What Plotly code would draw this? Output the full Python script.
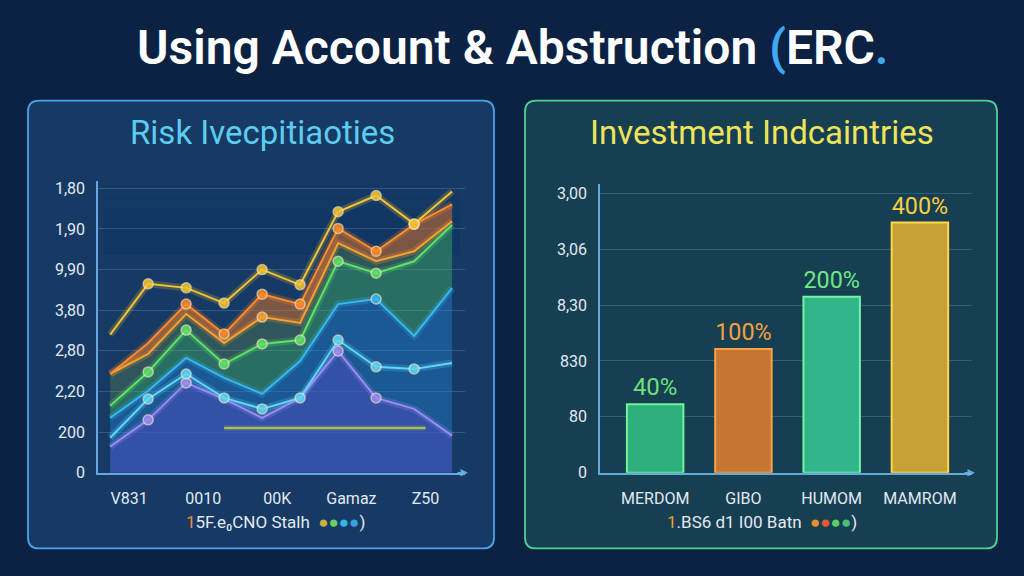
import plotly.graph_objects as go

# --- textos ---
titulo = "Using Account &amp; Abstruction <span style='color:#3fa9f5'>(</span>ERC<span style='color:#3fa9f5'>.</span>"
titulo_izq = "Risk Ivecpitiaoties"
titulo_der = "Investment Indcaintries"

# --- panel izquierdo: lineas ---
puntos = [0, 1, 2, 3, 4, 5, 6, 7, 8, 9]
amarillo = [680, 930, 910, 835, 1000, 925, 1285, 1365, 1225, 1385]
naranja_sup = [486, 639, 830, 683, 879, 830, 1203, 1090, 1223, 1321]
naranja_inf = [486, 585, 781, 639, 766, 737, 1130, 1041, 1090, 1238]
verde = [329, 496, 702, 535, 634, 653, 1041, 982, 1041, 1220]
cian = [270, 403, 565, 467, 388, 550, 830, 855, 673, 909]
celeste = [172, 363, 486, 368, 314, 368, 653, 521, 511, 540]
violeta = [128, 260, 442, 363, 270, 368, 599, 368, 314, 182]
base_x = [3.0, 8.3]
base_y = [220, 220]

x_ticks = [0.5, 2.45, 4.4, 6.35, 8.3]
x_labels = ["V831", "0010", "00K", "Gamaz", "Z50"]
y_ticks = [0, 200, 400, 600, 800, 1000, 1200, 1400]
y_labels = ["0", "200", "2,20", "2,80", "3,80", "9,90", "1,90", "1,80"]

# --- panel derecho: barras ---
categorias = ["MERDOM", "GIBO", "HUMOM", "MAMROM"]
valores = [980, 1770, 2520, 3585]
etiquetas = ["40%", "100%", "200%", "400%"]
y2_ticks = [0, 800, 1600, 2400, 3200, 4000]
y2_labels = ["0", "80", "830", "8,30", "3,06", "3,00"]

leyenda_izq = "<span style='color:#f08a3a'>1</span>5F.e\u2080CNO Stalh"
leyenda_der = "<span style='color:#e8a030'>1</span>.BS6 d1 I00 Batn"

W, H = 1024, 576
K = 0.982  # la foto comprime un poco en vertical
FUENTE = "Roboto"


def fx(p):
    return p / W


def fy(p):
    return 1 - (p / K) / H


def panel(x0, y0, x1, y1, r=11):
    return (f"M {fx(x0+r)},{fy(y0)} L {fx(x1-r)},{fy(y0)} Q {fx(x1)},{fy(y0)} {fx(x1)},{fy(y0+r)} "
            f"L {fx(x1)},{fy(y1-r)} Q {fx(x1)},{fy(y1)} {fx(x1-r)},{fy(y1)} "
            f"L {fx(x0+r)},{fy(y1)} Q {fx(x0)},{fy(y1)} {fx(x0)},{fy(y1-r)} "
            f"L {fx(x0)},{fy(y0+r)} Q {fx(x0)},{fy(y0)} {fx(x0+r)},{fy(y0)} Z")


def texto(t, px, py, size, color, **kw):
    return dict(text=t, x=fx(px), y=fy(py), xref="paper", yref="paper", showarrow=False,
                xanchor="center", yanchor="middle", font=dict(size=size, color=color, family=FUENTE, **kw))


fig = go.Figure()

# rellenos
def relleno(y, fill, color):
    fig.add_trace(go.Scatter(x=puntos, y=y, mode="lines", line=dict(width=0, color=color),
                             fill=fill, fillcolor=color, hoverinfo="skip", xaxis="x", yaxis="y"))

relleno(cian, "tozeroy", "rgba(35,140,225,0.38)")
relleno(violeta, "tozeroy", "rgba(80,70,190,0.45)")
relleno(cian, None, "rgba(0,0,0,0)")
relleno(verde, "tonexty", "rgba(70,195,95,0.38)")
relleno(naranja_inf, "tonexty", "rgba(110,150,70,0.30)")
relleno(naranja_sup, "tonexty", "rgba(225,115,40,0.50)")

series = [
    (violeta, "#9a8cf2", [1, 2, 6, 7]),
    (celeste, "#5fd6f7", [1, 2, 3, 4, 5, 6, 7, 8]),
    (cian, "#38b6f0", [7]),
    (verde, "#5ee06a", [1, 2, 3, 4, 5, 6, 7]),
    (naranja_inf, "#f7a030", [4]),
    (naranja_sup, "#ff8a2a", [2, 3, 4, 5, 6, 7, 8]),
    (amarillo, "#f2c230", [1, 2, 3, 4, 5, 6, 7, 8]),
]

# brillo
for y, c, _ in series:
    fig.add_trace(go.Scatter(x=puntos, y=y, mode="lines", line=dict(width=7, color=c),
                             opacity=0.22, hoverinfo="skip", xaxis="x", yaxis="y"))

# linea de base
fig.add_trace(go.Scatter(x=base_x, y=base_y, mode="lines", line=dict(width=5, color="#c8d040"),
                         opacity=0.25, hoverinfo="skip", xaxis="x", yaxis="y"))
fig.add_trace(go.Scatter(x=base_x, y=base_y, mode="lines", line=dict(width=2, color="#b8d048"),
                         opacity=0.85, hoverinfo="skip", xaxis="x", yaxis="y"))

for y, c, marcas in series:
    tam = [10 if i in marcas else 0 for i in range(len(y))]
    fig.add_trace(go.Scatter(x=puntos, y=y, mode="lines+markers", line=dict(width=2, color=c),
                             marker=dict(size=tam, color=c, opacity=0.85,
                                         line=dict(width=1.5, color="rgba(255,240,200,0.7)")),
                             xaxis="x", yaxis="y"))

# barras
colores_barra = ["#2fae7e", "#c47632", "#33b58c", "#c6a236"]
bordes_barra = ["#6ef59a", "#ffa040", "#72f5a0", "#ffd84a"]
colores_texto = ["#6ee07a", "#f5a040", "#6ee884", "#f5cf40"]
fig.add_trace(go.Bar(x=categorias, y=valores, width=0.64,
                     marker=dict(color=colores_barra, line=dict(width=2, color=bordes_barra)),
                     text=etiquetas, textposition="outside", cliponaxis=False,
                     textfont=dict(size=24, color=colores_texto, family=FUENTE),
                     xaxis="x2", yaxis="y2"))

eje = dict(showline=True, linecolor="rgba(110,180,235,0.9)", linewidth=1.5,
           gridcolor="rgba(110,160,210,0.30)", gridwidth=1, zeroline=False,
           tickfont=dict(size=16, color="#e2e9f2", family=FUENTE), ticks="", fixedrange=True)

fig.update_layout(
    width=W, height=H, autosize=False, margin=dict(l=0, r=0, t=0, b=0),
    paper_bgcolor="#0c2243", plot_bgcolor="rgba(0,0,0,0)", showlegend=False,
    xaxis=dict(eje, domain=[fx(98), fx(465)], range=[-0.32, 9.34], anchor="y",
               tickvals=x_ticks, ticktext=x_labels, showgrid=False, ticklabelstandoff=10),
    yaxis=dict(eje, domain=[fy(472), fy(180)], range=[0, 1434], anchor="x",
               tickvals=y_ticks, ticktext=y_labels, ticklabelstandoff=8),
    xaxis2=dict(eje, domain=[fx(600), fx(972)], range=[-0.625, 3.59], anchor="y2",
                showgrid=False, ticklabelstandoff=10),
    yaxis2=dict(eje, domain=[fy(472), fy(183)], range=[0, 4128], anchor="x2",
                tickvals=y2_ticks, ticktext=y2_labels, ticklabelstandoff=8),
    shapes=[
        dict(type="path", path=panel(28, 99, 494, 548), xref="paper", yref="paper", layer="below",
             fillcolor="#163a64", line=dict(color="#4aa2ea", width=1.8)),
        dict(type="path", path=panel(525, 99, 997, 548), xref="paper", yref="paper", layer="below",
             fillcolor="#173f52", line=dict(color="#4fcf96", width=1.8)),
    ],
    annotations=[
        texto(titulo, 512, 46, 48, "#ffffff", weight=600),
        texto(titulo_izq, 262, 131, 33, "#5ccdf0"),
        texto(titulo_der, 762, 131, 33, "#eee35a"),
        texto(leyenda_izq + "  <span style='color:#c8b040'>\u25cf</span><span style='color:#6ad060'>\u25cf</span>"
              "<span style='color:#30b8e8'>\u25cf</span><span style='color:#3aa0e0'>\u25cf</span>)",
              275, 522, 17, "#e2e9f2"),
        texto(leyenda_der + "  <span style='color:#e89030'>\u25cf</span><span style='color:#e85a30'>\u25cf</span>"
              "<span style='color:#5ad060'>\u25cf</span><span style='color:#4ac070'>\u25cf</span>)",
              762, 522, 17, "#e2e9f2"),
        dict(x=fx(468), y=fy(472), ax=-12, ay=0, xref="paper", yref="paper", text="", showarrow=True,
             arrowhead=2, arrowsize=1, arrowwidth=1.5, arrowcolor="rgba(110,180,235,0.9)"),
        dict(x=fx(975), y=fy(472), ax=-12, ay=0, xref="paper", yref="paper", text="", showarrow=True,
             arrowhead=2, arrowsize=1, arrowwidth=1.5, arrowcolor="rgba(110,180,235,0.9)"),
    ],
)

fig.write_html("out.html", config={"responsive": False, "displayModeBar": False},
               post_script="document.body.style.margin='0';")
